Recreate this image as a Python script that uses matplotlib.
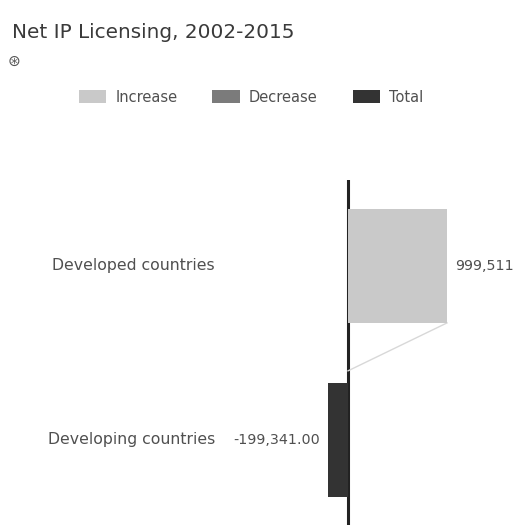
import matplotlib
matplotlib.use("Agg")
import matplotlib.pyplot as plt
from matplotlib.patches import Patch
from matplotlib.transforms import blended_transform_factory

plt.rcParams["font.family"] = ["DejaVu Sans"]

# Waterfall data
categories = ["Developed countries", "Developing countries"]
kinds = ["increase", "total"]
values = [999511, -199341.00]
value_labels = ["999,511", "-199,341.00"]

COLORS = {"increase": "#c9c9c9", "decrease": "#7b7b7b", "total": "#333333"}
TEXT = "#505050"

fig = plt.figure(figsize=(5.32, 5.25), dpi=100)
fig.patch.set_facecolor("white")

# axes span the full width; zero line sits at x=348px
ax = fig.add_axes([0.0, 0.0, 1.0, 345 / 525])
ax.set_facecolor("white")
px_per_unit = 99.05 / 1e6
ax.set_xlim(-348 / px_per_unit, (532 - 348) / px_per_unit)
ax.set_ylim(1.489, -0.494)
for s in ax.spines.values():
    s.set_visible(False)
ax.set_xticks([])
ax.set_yticks([])

bar_h = 0.655
ax.axvline(0, color="#222222", lw=2.2, zorder=1)

start = 0
for i, (cat, kind, val, lab) in enumerate(zip(categories, kinds, values, value_labels)):
    if kind == "total":
        left, width = 0, val
    else:
        left, width = start, val
        start += val
    ax.barh(i, width, left=left, height=bar_h, color=COLORS[kind],
            edgecolor="none", zorder=2)
    end = left + width
    if val >= 0:
        ax.annotate(lab, (end, i), xytext=(6, 0), textcoords="offset points",
                    ha="left", va="center", fontsize=10.3, color=TEXT)
    else:
        ax.annotate(lab, (end, i), xytext=(-6, 0), textcoords="offset points",
                    ha="right", va="center", fontsize=10.3, color=TEXT)

# connector from end of the increase bar down to the zero line
ax.plot([values[0], 0], [0 + bar_h / 2, 0.603], color="#d8d8d8", lw=1.0, zorder=1.5)

# category labels, right-aligned left of the chart
trans = blended_transform_factory(fig.transFigure, ax.transData)
for i, cat in enumerate(categories):
    ax.text(215 / 532, i, cat, transform=trans, ha="right", va="center",
            fontsize=11.3, color=TEXT)

# title and small icon
fig.text(12 / 532, 1 - 32 / 525, "Net IP Licensing, 2002-2015", ha="left", va="center",
         fontsize=14.4, color="#3a3a3a")
fig.text(14 / 532, 1 - 61 / 525, "\u229b", ha="center", va="center",
         fontsize=11, color="#555555")

handles = [Patch(facecolor=COLORS[k], edgecolor="none") for k in ["increase", "decrease", "total"]]
fig.legend(handles, ["Increase", "Decrease", "Total"], loc="center",
           bbox_to_anchor=(251 / 532, 1 - 97 / 525), ncol=3, frameon=False,
           fontsize=10.5, labelcolor=TEXT, handlelength=1.9, handleheight=0.95,
           columnspacing=2.4, handletextpad=0.6)

fig.savefig("out.png", dpi=100, facecolor="white")
